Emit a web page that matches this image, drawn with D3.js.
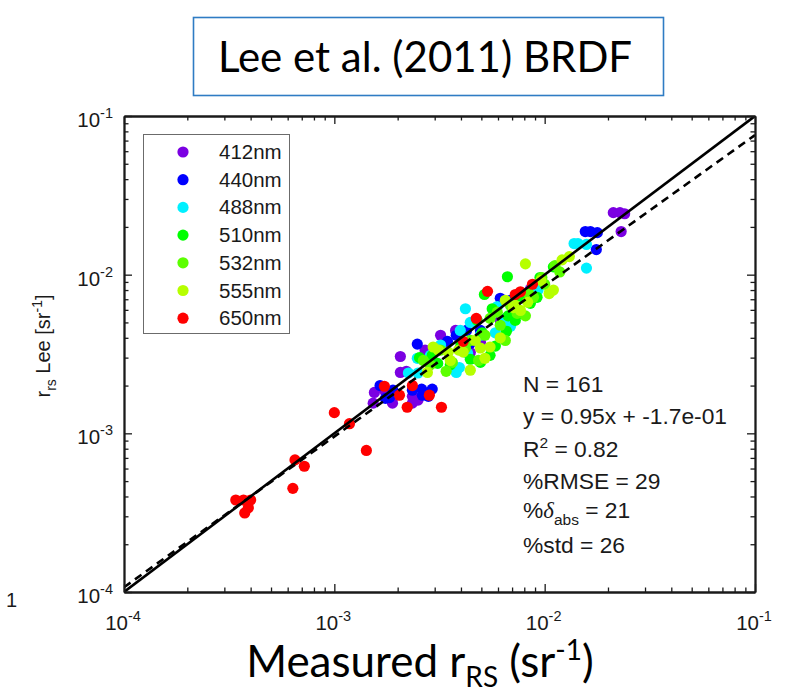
<!DOCTYPE html>
<html>
<head>
<meta charset="utf-8">
<script src="https://cdn.jsdelivr.net/npm/d3@7"></script>
<style>
  html, body { margin: 0; padding: 0; background: #fff; }
  svg { display: block; }
</style>
</head>
<body>
<svg id="chart" width="797" height="698"></svg>
<script>
// Wavebands and their marker colours
const bands = ["412nm", "440nm", "488nm", "510nm", "532nm", "555nm", "650nm"];
const bandColors = ["#7B00E2", "#0000FF", "#00F0FF", "#00FF00", "#5CFF00", "#B6FF00", "#FF0000"];

// Measured rrs (x) and Lee-model rrs (y), sr^-1, per band
const measured412 = [2.12e-2, 2.28e-2, 2.4e-2, 2.31e-2, 2.06e-3, 2.2e-3, 1.55e-3, 1.53e-3, 1.89e-3, 2.35e-3, 2.35e-3, 8.55e-3, 4.95e-3, 3.3e-3, 2.06e-3, 3.2e-3, 3.77e-3, 4.43e-3, 1.73e-3, 2.5e-3, 6.15e-3, 1.95e-3, 2.7e-3];
const lee412      = [2.46e-2, 2.46e-2, 2.42e-2, 1.87e-2, 3.05e-3, 2.46e-3, 1.81e-3, 1.55e-3, 1.55e-3, 1.71e-3, 1.55e-3, 8.1e-3, 3.75e-3, 3.6e-3, 2.42e-3, 4.15e-3, 4.45e-3, 3.23e-3, 1.87e-3, 1.62e-3, 5.15e-3, 1.74e-3, 3.35e-3];

const measured440 = [1.56e-2, 1.65e-2, 1.78e-2, 1.76e-2, 2.48e-3, 1.65e-3, 1.83e-3, 2.6e-3, 2.62e-3, 2.92e-3, 3.45e-3, 4.43e-3, 6.15e-3, 9.2e-3, 3.8e-3, 4.25e-3, 1.9e-3, 6.88e-3, 1.75e-3, 2.8e-3, 4.95e-3, 3.97e-3, 2.35e-3];
const lee440      = [1.87e-2, 1.87e-2, 1.84e-2, 1.44e-2, 3.65e-3, 2.0e-3, 1.68e-3, 1.9e-3, 1.74e-3, 1.9e-3, 3.8e-3, 3.7e-3, 7.1e-3, 8.3e-3, 4.15e-3, 4.45e-3, 1.87e-3, 6.9e-3, 1.66e-3, 1.71e-3, 4.45e-3, 3.45e-3, 1.87e-3];

const measured488 = [1.38e-2, 1.44e-2, 1.58e-2, 1.58e-2, 4.2e-3, 5.95e-3, 6.88e-3, 3.97e-3, 5.83e-3, 4.3e-3, 3.93e-3, 2.48e-3, 2.5e-3, 3.8e-3, 2.86e-3, 9.3e-3, 3.2e-3, 4.95e-3, 7.25e-3, 2.25e-3, 4.43e-3, 6.5e-3];
const lee488      = [1.57e-2, 1.57e-2, 1.55e-2, 1.1e-2, 6.1e-3, 6.3e-3, 4.73e-3, 4.45e-3, 4.3e-3, 3.2e-3, 2.6e-3, 2.97e-3, 2.4e-3, 2.42e-3, 3.1e-3, 8.0e-3, 3.6e-3, 4.15e-3, 5.95e-3, 2.4e-3, 5.0e-3, 5.3e-3];

const measured510 = [6.65e-3, 5.17e-3, 4.78e-3, 6.58e-3, 4.95e-3, 4.43e-3, 5.63e-3, 9.2e-3, 8.55e-3, 7.67e-3, 6.7e-3, 5.05e-3, 2.54e-3, 3.1e-3, 2.92e-3, 1.1e-2, 9.5e-3, 4.0e-3, 5.83e-3, 3.56e-3, 7.67e-3, 5.5e-3, 7.25e-3];
const lee510      = [9.7e-3, 7.5e-3, 5.15e-3, 4.4e-3, 2.8e-3, 2.93e-3, 6.1e-3, 7.2e-3, 6.6e-3, 5.7e-3, 5.5e-3, 4.3e-3, 3.0e-3, 2.76e-3, 3.1e-3, 1.12e-2, 9.6e-3, 3.65e-3, 3.55e-3, 2.7e-3, 7.3e-3, 3.1e-3, 5.15e-3];

const measured532 = [1.12e-2, 9.7e-3, 1.06e-2, 8.85e-3, 7.4e-3, 8.4e-3, 5.2e-3, 4.43e-3, 6.15e-3, 3.64e-3, 3.2e-3, 2.65e-3, 5.5e-3, 6.88e-3, 4.2e-3, 1.0e-2, 4.85e-3, 8.1e-3, 3.4e-3, 6.5e-3, 2.86e-3, 1.18e-2, 5.95e-3];
const lee532      = [1.14e-2, 9.6e-3, 7.8e-3, 7.2e-3, 5.7e-3, 7.6e-3, 4.15e-3, 3.85e-3, 4.8e-3, 2.8e-3, 3.35e-3, 2.88e-3, 5.3e-3, 6.4e-3, 3.45e-3, 8.7e-3, 2.88e-3, 5.5e-3, 2.46e-3, 3.85e-3, 2.7e-3, 1.04e-2, 5.8e-3];

const measured555 = [8.1e-3, 1.21e-2, 1.31e-2, 1.1e-2, 1.05e-2, 7.25e-3, 8.3e-3, 7.1e-3, 6.15e-3, 5.5e-3, 4.95e-3, 4.1e-3, 2.95e-3, 3.12e-3, 3.56e-3, 3.9e-3, 2.77e-3, 4.43e-3, 3.48e-3, 6.5e-3, 9.6e-3, 5.2e-3, 7.67e-3, 4.68e-3];
const lee555      = [1.17e-2, 1.24e-2, 1.3e-2, 8.0e-3, 7.6e-3, 6.4e-3, 6.7e-3, 6.2e-3, 4.0e-3, 3.5e-3, 3.45e-3, 3.25e-3, 3.5e-3, 3.35e-3, 2.88e-3, 3.35e-3, 2.42e-3, 2.5e-3, 3.25e-3, 6.9e-3, 9.2e-3, 2.97e-3, 5.95e-3, 3.85e-3];

const measured650 = [3.4e-4, 3.7e-4, 4.0e-4, 3.75e-4, 3.9e-4, 6.35e-4, 6.5e-4, 7.2e-4, 1.0e-3, 1.18e-3, 1.42e-3, 1.73e-3, 2.04e-3, 2.35e-3, 2.22e-3, 2.83e-3, 3.23e-3, 4.1e-3, 4.73e-3, 5.35e-3, 7.25e-3, 8.75e-3, 7.67e-3];
const lee650      = [3.8e-4, 3.8e-4, 3.8e-4, 3.15e-4, 3.4e-4, 4.5e-4, 6.8e-4, 6.2e-4, 1.35e-3, 1.15e-3, 7.8e-4, 1.98e-3, 1.74e-3, 2.0e-3, 1.46e-3, 1.74e-3, 1.46e-3, 3.8e-3, 5.3e-3, 7.85e-3, 7.5e-3, 8.7e-3, 7.8e-3];

// Axis decades and log-log fit (log10 y = slope * log10 x + intercept)
const axisDomain = [1e-4, 1e-1];
const tickExponents = [-4, -3, -2, -1];
const fitSlope = 0.95, fitIntercept = -0.17;

// Statistics box
const statLines = [
  [{t: "N = 161"}],
  [{t: "y = 0.95x + -1.7e-01"}],
  [{t: "R"}, {t: "2", sup: true}, {t: " = 0.82"}],
  [{t: "%RMSE = 29"}],
  [{t: "%"}, {t: "\u03B4", it: true}, {t: "abs", sub: true}, {t: " = 21"}],
  [{t: "%std = 26"}]
];

const series = [
  {band: bands[0], color: bandColors[0], x: measured412, y: lee412},
  {band: bands[1], color: bandColors[1], x: measured440, y: lee440},
  {band: bands[2], color: bandColors[2], x: measured488, y: lee488},
  {band: bands[3], color: bandColors[3], x: measured510, y: lee510},
  {band: bands[4], color: bandColors[4], x: measured532, y: lee532},
  {band: bands[5], color: bandColors[5], x: measured555, y: lee555},
  {band: bands[6], color: bandColors[6], x: measured650, y: lee650}
];

const svg = d3.select("#chart");
const AX = "'Liberation Sans', Arial, sans-serif";
const TITLE_FONT = "Lato, 'Open Sans', sans-serif";
const ink = "#1a1a1a";

svg.append("rect").attr("width", 797).attr("height", 698).attr("fill", "#fff");

const plot = {left: 124, right: 755, top: 116, bottom: 592};
const x = d3.scaleLog().domain(axisDomain).range([plot.left, plot.right]);
const y = d3.scaleLog().domain(axisDomain).range([plot.bottom, plot.top]);

svg.append("clipPath").attr("id", "plotclip")
  .append("rect").attr("x", plot.left).attr("y", plot.top)
  .attr("width", plot.right - plot.left).attr("height", plot.bottom - plot.top);

// Title box
svg.append("rect").attr("x", 193.5).attr("y", 17.5).attr("width", 470).attr("height", 78)
  .attr("fill", "#fff").attr("stroke", "#2F7CC4").attr("stroke-width", 1.6);
svg.append("text").attr("x", 425).attr("y", 72).attr("text-anchor", "middle")
  .attr("font-family", TITLE_FONT).attr("font-size", 42).attr("fill", "#000")
  .text("Lee et al. (2011) BRDF");

// Scatter points
const gPts = svg.append("g").attr("clip-path", "url(#plotclip)");
series.forEach(s => {
  const pts = s.x.map((v, i) => [v, s.y[i]]);
  gPts.selectAll(null).data(pts).enter().append("circle")
    .attr("cx", d => x(d[0])).attr("cy", d => y(d[1])).attr("r", 5.6)
    .attr("fill", s.color);
});

// 1:1 line and fit line
const gLines = svg.append("g").attr("clip-path", "url(#plotclip)");
const line = d3.line().x(d => x(d[0])).y(d => y(d[1]));
gLines.append("path").datum(axisDomain.map(v => [v, v])).attr("d", line)
  .attr("fill", "none").attr("stroke", "#000").attr("stroke-width", 2.6);
const fitPts = axisDomain.map(v => [v, Math.pow(10, fitSlope * Math.log10(v) + fitIntercept)]);
gLines.append("path").datum(fitPts).attr("d", line)
  .attr("fill", "none").attr("stroke", "#000").attr("stroke-width", 2.6)
  .attr("stroke-dasharray", "8,5.5");

// Axes with inward ticks on all four sides
const allTicks = x.ticks();
const majors = allTicks.filter(v => Math.abs(Math.log10(v) - Math.round(Math.log10(v))) < 1e-9);
const minors = allTicks.filter(v => !majors.includes(v));
function drawAxis(gen, scale, transform) {
  [[majors, 8], [minors, 4.5]].forEach(([vals, len]) => {
    const g = svg.append("g").attr("transform", transform)
      .call(gen(scale).tickValues(vals).tickSizeInner(-len).tickSizeOuter(0).tickFormat(""));
    g.select(".domain").attr("stroke", ink).attr("stroke-width", 1.8);
    g.selectAll(".tick line").attr("stroke", ink).attr("stroke-width", 1.3);
  });
}
drawAxis(d3.axisBottom, x, `translate(0,${plot.bottom})`);
drawAxis(d3.axisTop, x, `translate(0,${plot.top})`);
drawAxis(d3.axisLeft, y, `translate(${plot.left},0)`);
drawAxis(d3.axisRight, y, `translate(${plot.right},0)`);

// Tick labels: 10^n
tickExponents.forEach(e => {
  const v = Math.pow(10, e);
  const tx = svg.append("text").attr("x", x(v) - 1).attr("y", 630).attr("text-anchor", "middle")
    .attr("font-family", AX).attr("font-size", 20.5).attr("fill", ink);
  tx.append("tspan").text("10");
  tx.append("tspan").attr("font-size", 14.5).attr("dy", -9).text(String(e));
  const ty = svg.append("text").attr("x", plot.left - 11).attr("y", y(v) + 11).attr("text-anchor", "end")
    .attr("font-family", AX).attr("font-size", 20.5).attr("fill", ink);
  ty.append("tspan").text("10");
  ty.append("tspan").attr("font-size", 14.5).attr("dy", -9).text(String(e));
});

// Stray label at left margin
svg.append("text").attr("x", 6).attr("y", 607).attr("font-family", AX).attr("font-size", 20)
  .attr("fill", ink).text("1");

// Y axis title
const yt = svg.append("text").attr("transform", "translate(50,346) rotate(-90)")
  .attr("text-anchor", "middle").attr("font-family", AX).attr("font-size", 20).attr("fill", ink);
yt.append("tspan").text("r");
yt.append("tspan").attr("font-size", 14).attr("dy", 6).text("rs");
yt.append("tspan").attr("dy", -6).text(" Lee [sr");
yt.append("tspan").attr("font-size", 14).attr("dy", -8).text("-1");
yt.append("tspan").attr("dy", 8).text("]");

// X axis title
const xt = svg.append("text").attr("x", 420).attr("y", 677).attr("text-anchor", "middle")
  .attr("font-family", TITLE_FONT).attr("font-size", 44).attr("fill", "#000");
xt.append("tspan").text("Measured r");
xt.append("tspan").attr("font-size", 28).attr("dy", 10).text("RS");
xt.append("tspan").attr("dy", -10).text(" (sr");
xt.append("tspan").attr("font-size", 28).attr("dy", -17).text("-1");
xt.append("tspan").attr("dy", 17).text(")");

// Legend
const leg = svg.append("g");
leg.append("rect").attr("x", 143.5).attr("y", 134.5).attr("width", 146).attr("height", 199)
  .attr("fill", "#fff").attr("stroke", "#6b6b6b").attr("stroke-width", 1);
series.forEach((s, i) => {
  const cy = 152 + i * 27.7;
  leg.append("circle").attr("cx", 183).attr("cy", cy).attr("r", 5.6).attr("fill", s.color);
  leg.append("text").attr("x", 219).attr("y", cy + 7).attr("font-family", AX).attr("font-size", 20.5)
    .attr("fill", ink).text(s.band);
});

// Statistics text
const statBaselines = [392, 424, 457, 489, 518, 553];
statLines.forEach((parts, i) => {
  const t = svg.append("text").attr("x", 523).attr("y", statBaselines[i])
    .attr("font-family", AX).attr("font-size", 22.8).attr("fill", ink);
  let shift = 0;
  parts.forEach(p => {
    const sp = t.append("tspan").text(p.t);
    let target = 0;
    if (p.sup) { sp.attr("font-size", 15.5); target = -9; }
    if (p.sub) { sp.attr("font-size", 15.5); target = 7; }
    if (p.it) sp.attr("font-style", "italic").attr("font-family", "'Liberation Serif', serif");
    if (target !== shift) { sp.attr("dy", target - shift); shift = target; }
  });
});
</script>
</body>
</html>
